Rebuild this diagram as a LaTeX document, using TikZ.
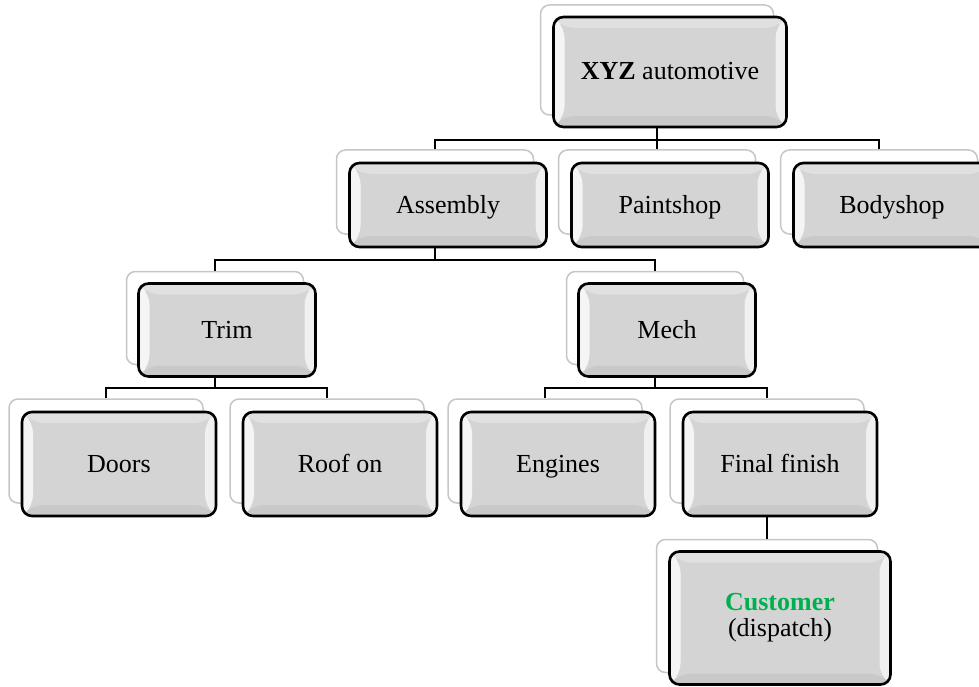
\documentclass[tikz,border=0pt]{standalone}
\usepackage{fontspec}
\setmainfont{Liberation Serif}
\usetikzlibrary{calc,positioning}
\definecolor{custgreen}{HTML}{00B050}

\tikzset{
    bevel/.style={path picture={
        \path (path picture bounding box.south west) coordinate (pSW)
              (path picture bounding box.north west) coordinate (pNW)
              (path picture bounding box.north east) coordinate (pNE)
              (path picture bounding box.south east) coordinate (pSE);
        \fill[gray!34] (pSW) rectangle (pNE);
        \fill[gray!8] (pSW) -- (pNW) -- ($(pNW)+(11pt,-11pt)$) -- ($(pSW)+(11pt,11pt)$) -- cycle;
        \fill[gray!12] (pSE) -- (pNE) -- ($(pNE)+(-11pt,-11pt)$) -- ($(pSE)+(-11pt,11pt)$) -- cycle;
        \fill[gray!24] (pNW) -- (pNE) -- ($(pNE)+(-11pt,-11pt)$) -- ($(pNW)+(11pt,-11pt)$) -- cycle;
        \fill[gray!42] (pSW) -- (pSE) -- ($(pSE)+(-11pt,11pt)$) -- ($(pSW)+(11pt,11pt)$) -- cycle;
    }},
    backbox/.style={draw=gray!45, line width=1.5pt, fill=white, rounded corners=9pt, inner sep=0pt},
    frontbox/.style={draw=black, line width=2.6pt, rounded corners=10pt, inner sep=0pt,
        font=\fontsize{26}{26}\selectfont, align=center, bevel},
    oneline/.style={text height=20pt, text depth=4pt},
    lvA/.style={minimum width=233pt, minimum height=110pt},
    lvB/.style={minimum width=197pt, minimum height=84pt},
    lvC/.style={minimum width=177pt, minimum height=93pt},
    lvD/.style={minimum width=194pt, minimum height=104pt},
    lvE/.style={minimum width=221pt, minimum height=133pt},
    link/.style={draw=black, line width=2pt}
}

\begin{document}
\begin{tikzpicture}[x=1pt, y=-1pt]
    \useasboundingbox (0,0) rectangle (979,687);

    % back plates
    \node[backbox, lvA] (xyzB) at (657, 60) {};
    \node[backbox, lvB] (asmB) at (435, 192) {};
    \node[backbox, lvB] (pntB) at (657, 192) {};
    \node[backbox, lvB] (bodB) at (879, 192) {};
    \node[backbox, lvC] (trmB) at (215, 318) {};
    \node[backbox, lvC] (mchB) at (655, 318) {};
    \node[backbox, lvD] (drsB) at (106, 451) {};
    \node[backbox, lvD] (rofB) at (327, 451) {};
    \node[backbox, lvD] (engB) at (545, 451) {};
    \node[backbox, lvD] (finB) at (767, 451) {};
    \node[backbox, lvE] (cusB) at (767, 606) {};

    % front boxes
    \node[frontbox, oneline, lvA] (xyz) at ($(xyzB)+(13,12)$) {\textbf{XYZ} automotive};
    \node[frontbox, oneline, lvB] (asm) at ($(asmB)+(13,13)$) {Assembly};
    \node[frontbox, oneline, lvB] (pnt) at ($(pntB)+(13,13)$) {Paintshop};
    \node[frontbox, oneline, lvB] (bod) at ($(bodB)+(13,13)$) {Bodyshop};
    \node[frontbox, oneline, lvC] (trm) at ($(trmB)+(12,12)$) {Trim};
    \node[frontbox, oneline, lvC] (mch) at ($(mchB)+(12,12)$) {Mech};
    \node[frontbox, oneline, lvD] (drs) at ($(drsB)+(13,13)$) {Doors};
    \node[frontbox, oneline, lvD] (rof) at ($(rofB)+(13,13)$) {Roof on};
    \node[frontbox, oneline, lvD] (eng) at ($(engB)+(13,13)$) {Engines};
    \node[frontbox, oneline, lvD] (fin) at ($(finB)+(13,13)$) {Final finish};
    \node[frontbox, lvE] (cus) at ($(cusB)+(13,12)$) {\textcolor{custgreen}{\textbf{Customer}}\\(dispatch)};

    % connectors
    \coordinate (busA) at (0, 140);
    \coordinate (busB) at (0, 260);
    \coordinate (busC) at (0, 388);

    \draw[link] (xyzB |- xyz.south) -- (pntB.north);
    \draw[link] (asmB.north) |- (bodB |- busA) -- (bodB.north);
    \draw[link] (asmB |- asm.south) -- (asmB |- busB);
    \draw[link] (trmB.north) |- (mchB |- busB) -- (mchB.north);
    \draw[link] (trmB |- trm.south) -- (trmB |- busC);
    \draw[link] (drsB.north) |- (rofB |- busC) -- (rofB.north);
    \draw[link] (mchB |- mch.south) -- (mchB |- busC);
    \draw[link] (engB.north) |- (finB |- busC) -- (finB.north);
    \draw[link] (finB |- fin.south) -- (cusB.north);
\end{tikzpicture}
\end{document}
